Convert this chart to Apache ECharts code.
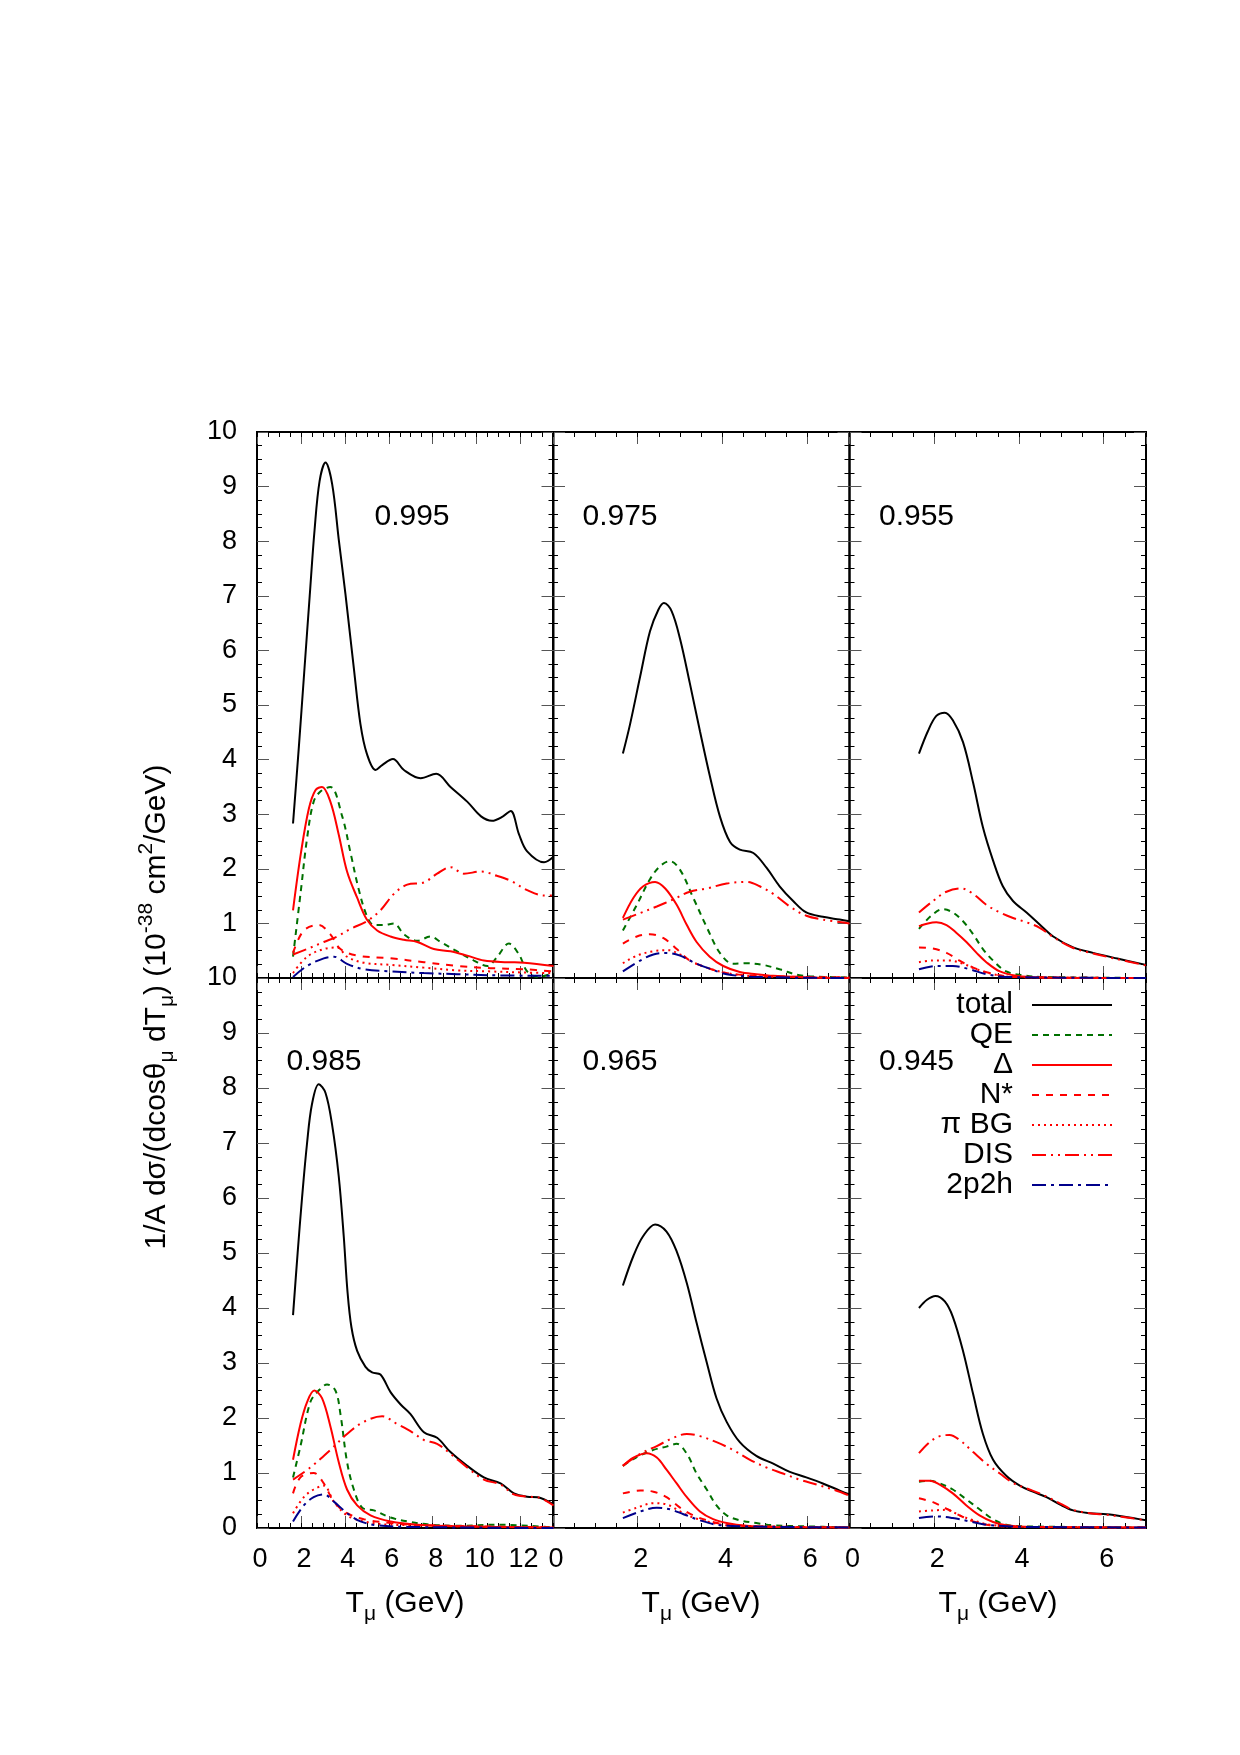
<!DOCTYPE html>
<html>
<head>
<meta charset="utf-8">
<title>Tmu spectra</title>
<script src="https://cdn.jsdelivr.net/npm/echarts@6/dist/echarts.min.js"></script>
<style>
  html, body { margin: 0; padding: 0; background: #fff; }
  #chart { width: 1240px; height: 1755px; }
</style>
</head>
<body>
<div id="chart"></div>
<script>
// cos(theta) = 0.995
var tot995 = [[1.64,2.83],[1.9,4.2],[2.15,5.6],[2.4,7.0],[2.62,8.2],[2.85,9.1],[3.12,9.44],[3.42,9.05],[3.72,8.04],[4.03,7.02],[4.41,5.67],[4.71,4.65],[5.0,4.11],[5.4,3.81],[5.7,3.9],[6.19,4.01],[6.69,3.81],[7.45,3.66],[8.16,3.74],[8.81,3.5],[9.57,3.23],[10.2,2.96],[10.7,2.88],[11.2,2.96],[11.55,3.06],[11.93,2.63],[12.3,2.32],[13.07,2.12],[13.5,2.22]];
var qe995  = [[1.64,0.39],[2.0,1.61],[2.28,2.56],[2.58,3.23],[2.9,3.42],[3.34,3.5],[3.88,2.96],[4.26,2.29],[4.64,1.61],[5.0,1.14],[5.32,0.97],[5.78,0.97],[6.23,1.0],[6.69,0.8],[7.3,0.68],[7.9,0.76],[8.36,0.66],[9.1,0.49],[9.88,0.32],[10.5,0.22],[10.94,0.39],[11.47,0.63],[11.93,0.43],[12.3,0.12],[12.77,0.02],[13.5,0.09]];
var del995 = [[1.64,1.24],[2.0,2.29],[2.36,3.1],[2.66,3.44],[2.96,3.5],[3.34,3.23],[3.72,2.63],[4.1,1.95],[4.56,1.47],[5.0,1.07],[5.47,0.87],[6.08,0.76],[6.69,0.7],[7.3,0.66],[8.05,0.53],[8.81,0.49],[9.57,0.41],[10.33,0.32],[11.4,0.29],[12.16,0.28],[13.5,0.22]];
var nst995 = [[1.64,0.46],[2.13,0.87],[2.81,0.97],[3.34,0.8],[3.8,0.53],[4.56,0.41],[6.08,0.36],[7.6,0.29],[9.12,0.22],[10.64,0.18],[12.16,0.16],[13.5,0.12]];
var pbg995 = [[1.64,0.09],[2.28,0.39],[3.04,0.53],[3.65,0.56],[4.1,0.39],[4.86,0.28],[6.08,0.24],[7.6,0.19],[9.12,0.14],[10.64,0.12],[12.16,0.1],[13.5,0.09]];
var dis995 = [[1.64,0.43],[2.28,0.53],[3.04,0.66],[3.65,0.76],[4.26,0.9],[5.0,1.04],[5.62,1.24],[6.23,1.54],[6.84,1.71],[7.6,1.75],[8.2,1.91],[8.81,2.03],[9.42,1.91],[10.2,1.95],[10.94,1.87],[11.55,1.78],[12.3,1.61],[13.07,1.51],[13.5,1.51]];
var pph995 = [[1.64,0.02],[2.28,0.22],[3.04,0.36],[3.5,0.39],[4.1,0.26],[4.86,0.16],[6.08,0.12],[7.6,0.09],[9.12,0.07],[10.64,0.05],[13.5,0.04]];

// cos(theta) = 0.975
var tot975 = [[1.65,4.11],[1.82,4.65],[2.06,5.53],[2.29,6.35],[2.49,6.75],[2.62,6.87],[2.8,6.72],[3.0,6.21],[3.23,5.4],[3.47,4.52],[3.7,3.71],[3.94,2.96],[4.18,2.49],[4.41,2.35],[4.73,2.29],[5.04,2.02],[5.35,1.68],[5.67,1.41],[5.98,1.2],[6.37,1.12],[6.77,1.07],[7.0,1.04]];
var qe975  = [[1.65,0.87],[1.98,1.34],[2.29,1.81],[2.53,2.05],[2.76,2.14],[3.0,1.98],[3.31,1.47],[3.63,0.93],[3.94,0.46],[4.25,0.26],[4.57,0.27],[4.96,0.24],[5.35,0.16],[5.82,0.05],[6.4,0.02],[7.0,0.01]];
var del975 = [[1.65,1.1],[1.9,1.47],[2.13,1.68],[2.41,1.76],[2.65,1.64],[2.92,1.34],[3.16,0.97],[3.39,0.66],[3.7,0.39],[4.02,0.22],[4.41,0.11],[4.8,0.07],[5.2,0.04],[6.0,0.01],[7.0,0]];
var nst975 = [[1.65,0.63],[1.98,0.76],[2.29,0.8],[2.61,0.73],[2.92,0.53],[3.23,0.32],[3.63,0.19],[4.1,0.09],[4.8,0.04],[7.0,0.01]];
var pbg975 = [[1.65,0.27],[1.98,0.41],[2.37,0.49],[2.72,0.51],[3.0,0.43],[3.31,0.29],[3.63,0.19],[4.1,0.09],[4.8,0.03],[7.0,0.01]];
var dis975 = [[1.65,1.07],[2.06,1.19],[2.45,1.31],[2.84,1.44],[3.23,1.58],[3.63,1.64],[4.1,1.73],[4.57,1.76],[4.88,1.68],[5.2,1.54],[5.59,1.31],[5.98,1.14],[6.37,1.07],[7.0,1.0]];
var pph975 = [[1.65,0.12],[2.06,0.32],[2.37,0.43],[2.68,0.46],[3.0,0.41],[3.31,0.29],[3.63,0.19],[4.1,0.07],[4.8,0.02],[7.0,0]];

// cos(theta) = 0.955
var tot955 = [[1.64,4.11],[1.85,4.52],[2.05,4.8],[2.25,4.86],[2.44,4.72],[2.68,4.32],[2.92,3.57],[3.15,2.76],[3.39,2.15],[3.62,1.68],[3.86,1.41],[4.18,1.2],[4.49,0.98],[4.81,0.76],[5.28,0.56],[5.75,0.46],[6.3,0.36],[7.0,0.24]];
var qe955  = [[1.64,0.9],[1.93,1.14],[2.2,1.26],[2.44,1.2],[2.68,1.04],[2.92,0.8],[3.15,0.53],[3.39,0.32],[3.7,0.12],[4.1,0.05],[4.5,0.02],[7.0,0]];
var del955 = [[1.64,0.95],[1.85,1.0],[2.05,1.02],[2.29,0.97],[2.52,0.83],[2.76,0.66],[3.0,0.46],[3.23,0.29],[3.55,0.12],[3.94,0.04],[4.5,0.01],[7.0,0]];
var nst955 = [[1.64,0.56],[1.97,0.54],[2.29,0.46],[2.6,0.32],[2.92,0.19],[3.31,0.09],[3.86,0.02],[7.0,0]];
var pbg955 = [[1.64,0.29],[1.97,0.32],[2.36,0.32],[2.68,0.26],[3.0,0.16],[3.39,0.07],[3.86,0.02],[7.0,0]];
var dis955 = [[1.64,1.2],[1.97,1.41],[2.29,1.58],[2.64,1.64],[2.92,1.54],[3.23,1.34],[3.55,1.2],[3.86,1.1],[4.18,1.02],[4.49,0.92],[4.81,0.75],[5.28,0.55],[5.75,0.45],[6.3,0.35],[7.0,0.23]];
var pph955 = [[1.64,0.16],[2.05,0.22],[2.44,0.22],[2.84,0.16],[3.23,0.07],[3.7,0.02],[7.0,0]];

// cos(theta) = 0.985
var tot985 = [[1.64,3.87],[1.85,5.0],[2.05,6.0],[2.28,7.0],[2.5,7.7],[2.81,8.07],[3.12,7.91],[3.42,7.33],[3.72,6.4],[3.95,5.3],[4.12,4.3],[4.3,3.65],[4.56,3.22],[4.94,2.93],[5.24,2.83],[5.62,2.79],[6.08,2.47],[6.53,2.25],[6.99,2.07],[7.6,1.74],[8.2,1.64],[8.81,1.38],[9.57,1.13],[10.33,0.92],[11.09,0.81],[11.7,0.63],[12.3,0.57],[12.77,0.56],[13.5,0.43]];
var qe985  = [[1.64,0.92],[1.98,1.49],[2.43,2.29],[2.81,2.5],[3.19,2.61],[3.57,2.5],[3.8,2.07],[4.1,1.2],[4.41,0.7],[4.79,0.37],[5.32,0.32],[6.08,0.19],[6.84,0.12],[7.9,0.06],[9.12,0.04],[10.94,0.06],[13.5,0.01]];
var del985 = [[1.64,1.24],[1.98,1.89],[2.28,2.29],[2.61,2.5],[2.96,2.36],[3.34,1.85],[3.72,1.2],[4.1,0.7],[4.56,0.41],[5.17,0.23],[6.08,0.12],[7.3,0.06],[9.12,0.03],[13.5,0.01]];
var nst985 = [[1.64,0.63],[1.98,0.92],[2.58,1.0],[3.04,0.81],[3.5,0.48],[4.1,0.27],[4.86,0.16],[6.08,0.09],[7.6,0.05],[13.5,0.01]];
var pbg985 = [[1.64,0.27],[2.13,0.56],[2.58,0.7],[3.04,0.77],[3.5,0.48],[4.1,0.23],[4.86,0.12],[6.08,0.06],[13.5,0.01]];
var dis985 = [[1.64,0.88],[2.43,1.1],[3.34,1.42],[4.1,1.71],[4.86,1.93],[5.7,2.03],[6.38,1.89],[7.07,1.74],[7.6,1.6],[8.2,1.53],[8.81,1.35],[9.57,1.1],[10.33,0.88],[11.09,0.79],[11.7,0.61],[12.3,0.57],[12.77,0.56],[13.5,0.41]];
var pph985 = [[1.64,0.12],[2.13,0.41],[2.58,0.56],[3.04,0.61],[3.5,0.48],[4.1,0.27],[4.71,0.12],[5.47,0.05],[6.84,0.02],[13.5,0]];

// cos(theta) = 0.965
var tot965 = [[1.65,4.41],[1.9,4.95],[2.13,5.31],[2.41,5.52],[2.68,5.39],[2.92,5.03],[3.16,4.45],[3.39,3.73],[3.63,3.01],[3.86,2.36],[4.1,1.93],[4.41,1.56],[4.8,1.31],[5.2,1.17],[5.59,1.02],[5.98,0.92],[6.37,0.81],[6.77,0.68],[7.0,0.61]];
var qe965  = [[1.65,1.13],[1.98,1.29],[2.37,1.42],[2.68,1.48],[2.92,1.53],[3.16,1.35],[3.39,0.99],[3.63,0.7],[3.86,0.41],[4.1,0.23],[4.41,0.14],[4.8,0.09],[5.2,0.05],[5.98,0.03],[7.0,0.01]];
var del965 = [[1.65,1.13],[1.9,1.28],[2.21,1.36],[2.45,1.28],[2.68,1.06],[2.92,0.81],[3.16,0.56],[3.47,0.3],[3.78,0.16],[4.1,0.09],[4.57,0.04],[5.2,0.02],[7.0,0.01]];
var nst965 = [[1.65,0.63],[2.06,0.68],[2.37,0.66],[2.68,0.56],[3.0,0.37],[3.31,0.23],[3.63,0.14],[4.1,0.06],[4.8,0.03],[7.0,0.01]];
var pbg965 = [[1.65,0.28],[1.98,0.37],[2.37,0.45],[2.68,0.43],[3.0,0.3],[3.31,0.19],[3.63,0.12],[4.1,0.05],[7.0,0.01]];
var dis965 = [[1.65,1.13],[2.06,1.35],[2.45,1.49],[2.84,1.64],[3.16,1.71],[3.47,1.67],[3.86,1.56],[4.25,1.42],[4.65,1.24],[5.04,1.1],[5.43,0.99],[5.82,0.88],[6.22,0.79],[6.61,0.7],[7.0,0.59]];
var pph965 = [[1.65,0.18],[2.06,0.3],[2.45,0.37],[2.76,0.34],[3.08,0.25],[3.47,0.14],[3.86,0.06],[4.41,0.03],[7.0,0.01]];

// cos(theta) = 0.945
var tot945 = [[1.64,4.0],[1.83,4.15],[2.03,4.22],[2.25,4.12],[2.44,3.84],[2.68,3.22],[2.92,2.43],[3.15,1.71],[3.39,1.24],[3.7,0.95],[4.02,0.77],[4.33,0.66],[4.65,0.56],[4.96,0.43],[5.28,0.32],[5.67,0.27],[6.07,0.25],[6.46,0.21],[7.0,0.14]];
var qe945  = [[1.64,0.84],[1.89,0.86],[2.13,0.81],[2.44,0.7],[2.76,0.52],[3.07,0.34],[3.39,0.16],[3.7,0.06],[4.1,0.03],[7.0,0.01]];
var del945 = [[1.64,0.86],[1.89,0.86],[2.13,0.79],[2.44,0.63],[2.76,0.41],[3.07,0.23],[3.39,0.11],[3.7,0.05],[4.3,0.02],[7.0,0.01]];
var nst945 = [[1.64,0.54],[1.97,0.47],[2.29,0.35],[2.6,0.23],[2.92,0.12],[3.31,0.05],[4.0,0.02],[7.0,0.01]];
var pbg945 = [[1.64,0.3],[1.97,0.32],[2.29,0.33],[2.6,0.23],[2.92,0.14],[3.31,0.06],[4.0,0.02],[7.0,0.01]];
var dis945 = [[1.64,1.36],[1.89,1.56],[2.13,1.67],[2.36,1.69],[2.6,1.6],[2.92,1.38],[3.23,1.17],[3.55,0.99],[3.86,0.82],[4.18,0.72],[4.49,0.63],[4.89,0.48],[5.28,0.33],[5.67,0.27],[6.07,0.24],[6.46,0.2],[7.0,0.14]];
var pph945 = [[1.64,0.18],[2.05,0.21],[2.44,0.18],[2.84,0.12],[3.15,0.07],[3.55,0.04],[4.2,0.02],[7.0,0.01]];

var seriesNames = ['total', 'QE', 'Δ', 'N*', 'π BG', 'DIS', '2p2h'];
var panelLabels = ['0.995', '0.975', '0.955', '0.985', '0.965', '0.945'];
var panelMax = [13.5, 7, 7, 13.5, 7, 7];
var yTicks = [0, 10, 1];
var panelData = [
    [tot995, qe995, del995, nst995, pbg995, dis995, pph995],
    [tot975, qe975, del975, nst975, pbg975, dis975, pph975],
    [tot955, qe955, del955, nst955, pbg955, dis955, pph955],
    [tot985, qe985, del985, nst985, pbg985, dis985, pph985],
    [tot965, qe965, del965, nst965, pbg965, dis965, pph965],
    [tot945, qe945, del945, nst945, pbg945, dis945, pph945]
];

var FONT = "'Liberation Sans', Arial, sans-serif";
var lineColors = ['#000000', '#007000', '#ff0000', '#ff0000', '#ff0000', '#ff0000', '#00008b'];
var lineTypes = ['solid', [6, 5], 'solid', [7, 7], [2, 4], [14, 5, 2, 5, 2, 5], [14, 5, 3, 5]];

var colLeft = [257, 553, 849.5], colW = 296.5;
var rowTop = [432, 978], rowH = [546, 550];

var chart = echarts.init(document.getElementById('chart'), null, { renderer: 'canvas' });

var grids = [], xAxes = [], yAxes = [], series = [], graphics = [];

for (var g = 0; g < 6; g++) {
    var r = Math.floor(g / 3), c = g % 3;
    grids.push({
        left: colLeft[c], top: rowTop[r], width: colW, height: rowH[r],
        show: true, borderColor: '#000', borderWidth: 2, backgroundColor: 'transparent'
    });
    // major + minor x ticks, bottom and mirrored top
    ['bottom', 'top'].forEach(function (pos) {
        xAxes.push({
            type: 'value', gridIndex: g, position: pos, min: 0, max: panelMax[g], interval: 2,
            axisLine: { show: false, onZero: false }, splitLine: { show: false },
            axisTick: { inside: true, length: 12, lineStyle: { color: '#555', width: 1 } },
            axisLabel: {
                show: pos === 'bottom' && r === 1, showMaxLabel: false, margin: 18,
                fontSize: 27, color: '#000', fontFamily: FONT, padding: [0, 0, 0, 6]
            }
        });
        xAxes.push({
            type: 'value', gridIndex: g, position: pos, min: 0, max: panelMax[g], interval: 0.5,
            axisLine: { show: false, onZero: false }, splitLine: { show: false },
            axisTick: { inside: true, length: 5, lineStyle: { color: '#000', width: 1 } },
            axisLabel: { show: false }
        });
    });
    ['left', 'right'].forEach(function (pos) {
        yAxes.push({
            type: 'value', gridIndex: g, position: pos, min: yTicks[0], max: yTicks[1], interval: yTicks[2],
            axisLine: { show: false, onZero: false }, splitLine: { show: false },
            axisTick: { inside: true, length: 12, lineStyle: { color: '#555', width: 1 } },
            minorTick: { show: true, splitNumber: 4, length: 5, lineStyle: { color: '#000', width: 1 } },
            axisLabel: {
                show: pos === 'left' && c === 0, showMinLabel: r === 1, margin: 20,
                fontSize: 27, color: '#000', fontFamily: FONT
            }
        });
    });
    for (var k = 0; k < seriesNames.length; k++) {
        series.push({
            name: seriesNames[k], type: 'line', xAxisIndex: 4 * g, yAxisIndex: 2 * g,
            data: panelData[g][k], smooth: 0.35, symbol: 'none', showSymbol: false,
            lineStyle: { color: lineColors[k], width: 2, type: lineTypes[k] },
            itemStyle: { color: lineColors[k] },
            emphasis: { disabled: true }, z: 2 + k
        });
    }
    graphics.push({
        type: 'text', x: colLeft[c] + [155, 67, 67][c], y: rowTop[r] + [85, 84][r],
        style: { text: panelLabels[g], font: '30px ' + FONT, fill: '#000', align: 'center', verticalAlign: 'middle' }
    });
}
// bottom-left label sits further left
graphics[3].x = 324;

var richT = {
    n: { fontSize: 30, fontFamily: FONT, fill: '#000', lineHeight: 42, verticalAlign: 'middle' },
    s: { fontSize: 21, fontFamily: FONT, fill: '#000', lineHeight: 21, verticalAlign: 'bottom' },
    p: { fontSize: 21, fontFamily: FONT, fill: '#000', lineHeight: 21, verticalAlign: 'top' }
};
[405, 701, 998].forEach(function (cx) {
    graphics.push({
        type: 'text', x: cx, y: 1604,
        style: { text: '{n|T}{s|μ}{n| (GeV)}', rich: richT, align: 'center', verticalAlign: 'middle', fill: '#000' }
    });
});
graphics.push({
    type: 'text', x: 157, y: 1007, rotation: Math.PI / 2,
    style: {
        text: '{n|1/A dσ/(dcosθ}{s|μ}{n| dT}{s|μ}{n|) (10}{p|-38}{n| cm}{p|2}{n|/GeV)}',
        rich: richT, align: 'center', verticalAlign: 'middle', fill: '#000'
    }
});

var option = {
    animation: false,
    backgroundColor: '#fff',
    grid: grids,
    xAxis: xAxes,
    yAxis: yAxes,
    legend: {
        data: seriesNames, orient: 'vertical', align: 'right',
        right: 122, top: 985, itemWidth: 80, itemHeight: 20, itemGap: 0,
        selectedMode: false,
        itemStyle: { opacity: 0 },
        textStyle: { fontSize: 30, color: '#000', fontFamily: FONT, lineHeight: 30, padding: [0, 14, 0, 0] }
    },
    series: series,
    graphic: graphics
};
chart.setOption(option);
</script>
</body>
</html>
